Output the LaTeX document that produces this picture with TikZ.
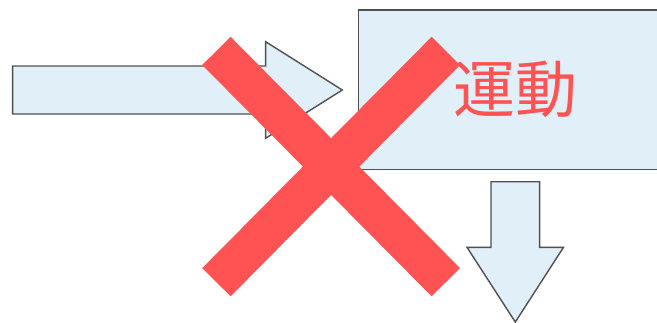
\documentclass[tikz,border=0pt]{standalone}
\usepackage{fontspec}
\newfontfamily\cjk{Noto Sans CJK JP}
\definecolor{boxfill}{HTML}{E1EFF9}
\definecolor{edgegray}{HTML}{505050}
\definecolor{xred}{HTML}{FF5252}
\begin{document}
\begin{tikzpicture}[x=1pt,y=-1pt,
  panel/.style={draw=edgegray, line width=1.4pt, fill=boxfill, line join=miter},
  crossbar/.style={draw=xred, line width=40pt, line cap=butt}]
\useasboundingbox (0,0) rectangle (657,322);
\clip (0,0) rectangle (657,322);
% left arrow
\coordinate (la1) at (12.6,66);
\coordinate (la2) at (265.6,66);
\coordinate (la3) at (265.6,41.7);
\coordinate (latip) at (342.3,90);
\coordinate (la5) at (265.6,138.3);
\coordinate (la6) at (265.6,114);
\coordinate (la7) at (12.6,114);
\path[panel] (la1) -- (la2) -- (la3) -- (latip) -- (la5) -- (la6) -- (la7) -- cycle;
% box
\node[panel, minimum width=313.4pt, minimum height=159.3pt, inner sep=0pt,
      text=xred, font=\cjk\fontsize{62}{62}\selectfont] (box) at (515.3,89.7) {運動};
% down arrow
\coordinate (da1) at (491,181.7);
\coordinate (da2) at (539.6,181.7);
\coordinate (da3) at (539.6,247.3);
\coordinate (da4) at (563.5,247.3);
\coordinate (datip) at (515.3,322);
\coordinate (da6) at (467,247.3);
\coordinate (da7) at (491,247.3);
\path[panel] (da1) -- (da2) -- (da3) -- (da4) -- (datip) -- (da6) -- (da7) -- cycle;
% cross
\coordinate (xa) at (216.4,50.9);
\coordinate (xb) at (445.8,282.2);
\coordinate (xc) at (445.8,50.9);
\coordinate (xd) at (216.4,282.2);
\draw[crossbar] (xa) -- (xb);
\draw[crossbar] (xc) -- (xd);
\end{tikzpicture}
\end{document}
